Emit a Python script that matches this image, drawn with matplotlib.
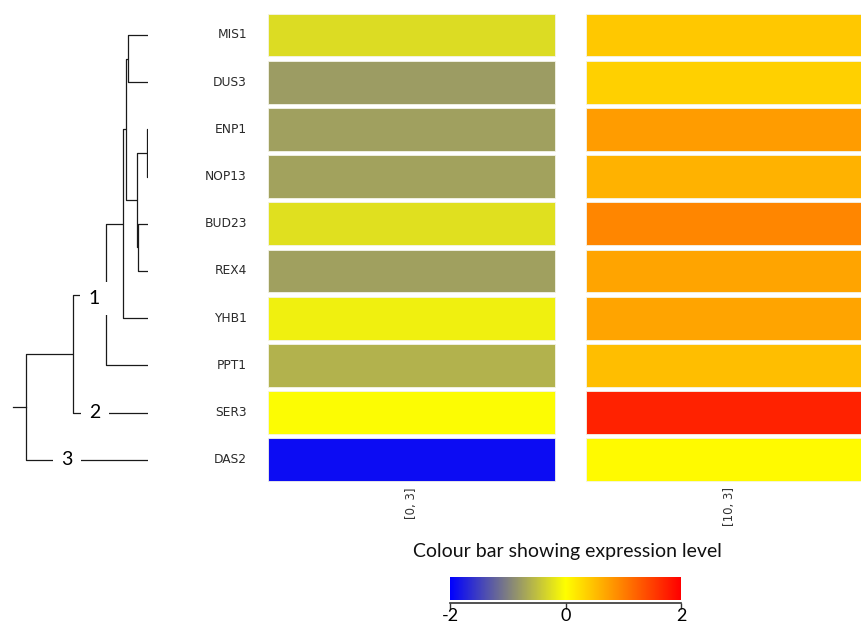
import numpy as np
import matplotlib
matplotlib.use("Agg")
import matplotlib.pyplot as plt
from matplotlib.colors import LinearSegmentedColormap, Normalize

# genes, top to bottom
genes = ["MIS1", "DUS3", "ENP1", "NOP13", "BUD23", "REX4", "YHB1", "PPT1", "SER3", "DAS2"]
conditions = ["[0, 3]", "[10, 3]"]

# expression levels
expr_0_3 = [-0.27, -0.78, -0.75, -0.72, -0.24, -0.75, -0.12, -0.6, -0.02, -1.9]
expr_10_3 = [0.43, 0.37, 0.78, 0.6, 0.94, 0.71, 0.71, 0.51, 1.73, 0.04]

# dendrogram merges: (child a, child b, height); new clusters numbered from 10
merges = [
    (2, 3, 0.5),
    (4, 5, 10.0),
    (10, 11, 10.5),
    (0, 1, 20.0),
    (13, 12, 21.5),
    (14, 6, 25.0),
    (15, 7, 42.0),
    (16, 8, 75.0),
    (17, 9, 122.0),
]
root_stub = 135.0
# (text, node it sits on, height along the branch)
cluster_labels = [("1", 16, 54.0), ("2", 8, 53.0), ("3", 9, 81.0)]

cmap = LinearSegmentedColormap.from_list(
    "expr", [(0.0, "#0000ff"), (0.25, "#808080"), (0.5, "#ffff00"),
             (0.75, "#ff8000"), (1.0, "#ff0000")])
norm = Normalize(-2, 2)

W, H = 862, 623
fig = plt.figure(figsize=(W / 100, H / 100), dpi=100)


def px_axes(x0, y0, x1, y1):
    return fig.add_axes([x0 / W, 1 - y1 / H, (x1 - x0) / W, (y1 - y0) / H])


n = len(genes)
row_top, row_step = 35 - 47.2 * 0.5, 47.2
y_top, y_bot = row_top, row_top + row_step * n

# heatmap
gap = 31 / 287
ax = px_axes(268, y_top, 268 + 287 * (2 + gap), y_bot)
ypos = np.arange(n)
for j, vals in enumerate([expr_0_3, expr_10_3]):
    ax.barh(ypos, 1.0, left=j * (1 + gap), height=0.91,
            color=cmap(norm(np.array(vals))), edgecolor="#f4f4e8", linewidth=0.6)
ax.set_xlim(0, 2 + gap)
ax.set_ylim(n - 0.5, -0.5)
ax.axis("off")
for i, g in enumerate(genes):
    ax.text(-21 / 287, i, g, ha="right", va="center", fontsize=8.8, color="#2a2a2a")
for j, c in enumerate(conditions):
    ax.text(j * (1 + gap) + 0.5, n - 0.5 + 4 / row_step, c, rotation=90, ha="center",
            va="top", fontsize=8.5, color="#333333")

# dendrogram
dax = px_axes(0, y_top, 148, y_bot)
pos = {i: (float(i), 0.0) for i in range(n)}
lc = "#1a1a1a"
for k, (a, b, h) in enumerate(merges):
    ya, ha_ = pos[a]
    yb, hb = pos[b]
    dax.plot([ha_, h, h, hb], [ya, ya, yb, yb], color=lc, lw=0.9, solid_capstyle="butt")
    pos[n + k] = ((ya + yb) / 2, h)
ry, rh = pos[n + len(merges) - 1]
dax.plot([rh, root_stub], [ry, ry], color=lc, lw=0.9)
for txt, node, h in cluster_labels:
    yoff = 0.08 if txt == "1" else 0.0
    dax.text(h, pos[node][0] + yoff, txt, ha="center", va="center", fontsize=14,
             family="Lato", zorder=5,
             bbox=dict(boxstyle="square,pad=0.42", fc="white", ec="none"))
dax.set_xlim(148, 0)
dax.set_ylim(n - 0.5, -0.5)
dax.axis("off")

# colour bar
fig.text(567 / W, 1 - 551 / H, "Colour bar showing expression level", ha="center",
         va="center", fontsize=14, family="Lato", color="#111111")
cax = px_axes(450, 577, 681, 600)
grad = np.linspace(-2, 2, 256)[None, :]
cax.imshow(grad, cmap=cmap, norm=norm, aspect="auto", extent=(-2, 2, 0, 1))
cax.set_yticks([])
for s in ("top", "left", "right"):
    cax.spines[s].set_visible(False)
cax.spines["bottom"].set_position(("outward", 2))
cax.spines["bottom"].set_color("#333333")
cax.spines["bottom"].set_linewidth(1.2)
cax.set_xticks([-2, 0, 2])
cax.set_xticklabels(["-2", "0", "2"])
cax.tick_params(axis="x", length=4, width=1, pad=0, labelsize=13, color="#333333")
for t in cax.get_xticklabels():
    t.set_family("Lato")

fig.savefig("out.png", dpi=100, facecolor="white")
